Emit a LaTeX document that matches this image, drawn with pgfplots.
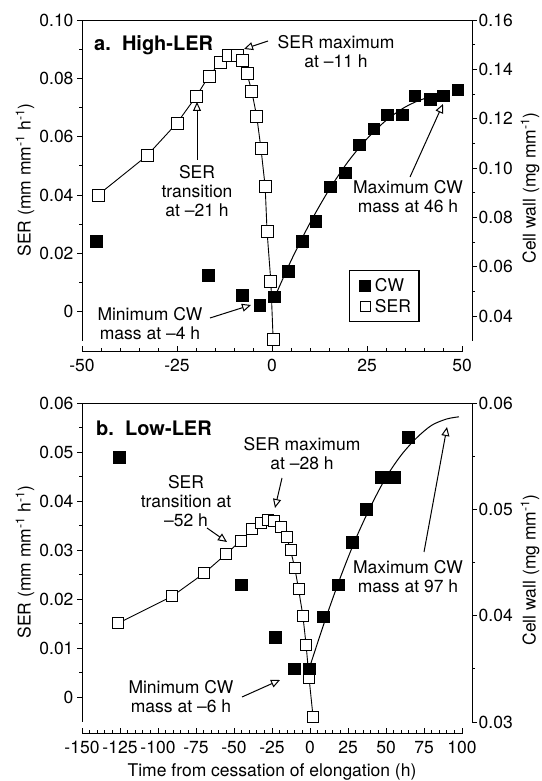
\documentclass[border=0pt]{standalone}
\usepackage{fontspec}
\setmainfont{TeX Gyre Heros}
\usepackage{pgfplots}
\pgfplotsset{compat=1.18}
\usetikzlibrary{arrows.meta}

\newcommand{\fs}{\fontsize{17.5}{19}\selectfont}

\pgfplotsset{
  base/.style={
    scale only axis, clip=false, scaled ticks=false,
    tick label style={font=\fs},
    axis line style={line width=1pt,-},
    every tick/.style={black,line width=0.9pt},
    major tick length=5pt, minor tick length=3pt,
  },
  yleft/.style={base, width=390pt, axis y line*=left, axis x line=none, tick align=outside},
  yright/.style={base, width=390pt, axis y line*=right, axis x line=none, tick align=outside,
    yticklabel style={inner sep=1.5pt}},
  xonly/.style={base, width=380pt, height=10pt, ymin=0, ymax=1, axis y line=none,
    axis x line*=bottom, tick align=inside, major tick length=6pt, minor tick length=3.5pt,
    xticklabel style={yshift=-4pt}},
  ser/.style={black, line width=0.9pt, mark=square*, mark size=#1,
    mark options={fill=white, line width=0.8pt, solid}},
  cw/.style={black, only marks, mark=square*, mark size=5.8pt},
  fit/.style={black, line width=1pt, smooth, no marks, forget plot},
}
\tikzset{ann/.style={-{Triangle[open,length=9pt,width=8pt]}, line width=1pt},
  txt/.style={font=\fs, align=center, inner sep=0pt}}

\begin{document}
\begin{tikzpicture}
\path[use as bounding box] (0,0) rectangle (541pt,781pt);

% ---------- panel a ----------
\begin{axis}[yleft, name=La, at={(82pt,440pt)}, anchor=south west, height=321pt,
  xmin=-50, xmax=52.63, ymin=-0.01, ymax=0.10,
  ytick={0,0.02,0.04,0.06,0.08,0.10},
  yticklabels={0,0.02,0.04,0.06,0.08,0.10},
  minor ytick={0.01,0.03,0.05,0.07,0.09}]
  \addplot[ser=6pt] coordinates {
    (-45.8,0.040) (-32.9,0.0535) (-25,0.0647) (-20,0.0737) (-16.6,0.0808)
    (-13.7,0.0853) (-11.6,0.0877) (-9.2,0.088) (-7.9,0.086) (-6.6,0.0818)
    (-5.3,0.0754) (-4,0.0668) (-2.9,0.0559) (-1.8,0.0429) (-1.3,0.0275)
    (-0.3,0.0103) (0.3,-0.0096)
  };
  \draw[line width=0.8pt] (rel axis cs:0,1) -- (rel axis cs:1,1);
\end{axis}
\begin{axis}[yright, at={(La.south west)}, anchor=south west, height=321pt,
  xmin=-50, xmax=52.63, ymin=0.03, ymax=0.16,
  ytick={0.04,0.06,0.08,0.10,0.12,0.14,0.16},
  yticklabels={0.04,0.06,0.08,0.10,0.12,0.14,0.16},
  minor ytick={0.05,0.07,0.09,0.11,0.13,0.15},
  legend style={at={(0.685,0.221)}, anchor=north west, draw=black, line width=1.2pt,
    font=\fs, inner xsep=6pt, inner ysep=6pt, row sep=2pt},
  legend cell align=left,
  legend image code/.code={\path (0pt,0pt) (16pt,0pt);
    \draw[#1, mark size=5.3pt] plot coordinates {(9pt,0pt)};}]
  \addplot[fit] coordinates {
    (0.5,0.047) (5,0.0625) (10,0.0778) (15,0.0912) (20,0.1026) (25,0.1119)
    (30,0.1193) (35,0.1247) (40,0.1281) (46,0.1295)
  };
  \addplot[cw] coordinates {
    (-46.3,0.0703) (-16.8,0.0566) (-7.9,0.0485) (-3.2,0.0444) (0.5,0.048)
    (4.3,0.0582) (8.0,0.0703) (11.5,0.0784) (15.3,0.0925) (19.2,0.0982)
    (22.9,0.1095) (26.8,0.116) (30.3,0.1216) (34.2,0.1216) (37.6,0.1293)
    (41.6,0.128) (45,0.1293) (48.9,0.1317)
  };
  \addlegendentry{CW}
  \addlegendimage{only marks, mark=square*, mark options={fill=white, line width=0.8pt}}
  \addlegendentry{SER}
\end{axis}
\begin{axis}[xonly, at={(La.south west)}, anchor=south west, yshift=-11pt,
  xmin=-50, xmax=50, xtick={-50,-25,0,25,50},
  xticklabels={-50,-25,0,25,50},
  minor xtick={-45,-40,...,45}]
\end{axis}

\node[font=\fs\bfseries, anchor=west, inner sep=0pt] at (94pt,736pt) {\fontsize{20}{22}\selectfont a.\ \ High-LER};
\node[txt] at (336pt,729pt) {SER maximum\\at –11 h};
\draw[ann] (268pt,740pt) -- (244pt,732pt);
\node[txt] at (197pt,590pt) {SER\\transition\\at –21 h};
\draw[ann] (197pt,621pt) -- (197pt,679pt);
\node[txt] at (150pt,457pt) {Minimum CW\\mass at –4 h};
\draw[ann] (210pt,463pt) -- (251pt,476pt);
\node[txt] at (408pt,584pt) {Maximum CW\\mass at 46 h};
\draw[ann] (410pt,604pt) -- (443pt,677pt);
\node[font=\fs, rotate=90] at (25pt,601pt) {SER (mm mm\textsuperscript{-1} h\textsuperscript{-1})};
\node[font=\fs, rotate=90] at (530pt,593pt) {Cell wall (mg mm\textsuperscript{-1})};

% ---------- panel b ----------
\begin{axis}[yleft, name=Lb, at={(82pt,59pt)}, anchor=south west, height=319pt,
  xmin=-150, xmax=106.58, ymin=-0.005, ymax=0.06,
  ytick={0,0.01,0.02,0.03,0.04,0.05,0.06},
  yticklabels={0,0.01,0.02,0.03,0.04,0.05,0.06},
  minor ytick={0.005,0.015,0.025,0.035,0.045,0.055}]
  \addplot[ser=5.5pt] coordinates {
    (-126.3,0.0151) (-90.8,0.0206) (-69.7,0.0253) (-55.3,0.0292) (-45.4,0.032)
    (-38,0.0343) (-32.4,0.0355) (-27.6,0.0361) (-23.5,0.0360) (-18.9,0.0347)
    (-15.3,0.0327) (-12.8,0.030) (-10,0.0264) (-7.6,0.0222) (-4.7,0.0167)
    (-2.6,0.0108) (-0.6,0.0039) (2,-0.0039)
  };
  \draw[line width=0.8pt] (rel axis cs:0,1) -- (rel axis cs:1,1);
\end{axis}
\begin{axis}[yright, at={(Lb.south west)}, anchor=south west, height=319pt,
  xmin=-150, xmax=106.58, ymin=0.03, ymax=0.06,
  ytick={0.03,0.04,0.05,0.06},
  yticklabels={0.03,0.04,0.05,0.06},
  minor ytick={0.035,0.045,0.055}]
  \addplot[fit] coordinates {
    (-0.6,0.035) (10,0.0396) (20,0.0436) (30,0.0472) (40,0.0503) (50,0.0530)
    (60,0.0551) (70,0.0567) (80,0.0579) (90,0.0585) (98,0.0587)
  };
  \addplot[cw] coordinates {
    (-125.7,0.0549) (-45.4,0.0429) (-23,0.038) (-10.5,0.035) (-0.6,0.035)
    (8.6,0.0399) (18.4,0.0429) (27.6,0.0469) (36.8,0.050) (46.7,0.053)
    (55.3,0.053) (64.5,0.0568)
  };
\end{axis}
\begin{axis}[xonly, at={(Lb.south west)}, anchor=south west, yshift=-12pt,
  xmin=-150, xmax=100, xtick={-150,-125,...,100},
  xticklabels={-150,-125,-100,-75,-50,-25,0,25,50,75,100},
  minor xtick={-145,-140,...,95}]
\end{axis}

\node[font=\fs\bfseries, anchor=west, inner sep=0pt] at (96pt,353pt) {\fontsize{20}{22}\selectfont b.\ \ Low-LER};
\node[txt] at (186pt,280pt) {SER\\transition at\\–52 h};
\draw[ann] (207pt,253pt) -- (227pt,239pt);
\node[txt] at (302pt,327pt) {SER maximum\\at –28 h};
\draw[ann] (282pt,303pt) -- (275pt,273pt);
\node[txt] at (408pt,204pt) {Maximum CW\\mass at 97 h};
\draw[ann] (424pt,229pt) -- (447pt,354pt);
\node[txt] at (181pt,84pt) {Minimum CW\\mass at –6 h};
\draw[ann] (242pt,84pt) -- (280pt,101pt);
\node[font=\fs, rotate=90] at (25pt,219pt) {SER (mm mm\textsuperscript{-1} h\textsuperscript{-1})};
\node[font=\fs, rotate=90] at (530pt,211pt) {Cell wall (mg mm\textsuperscript{-1})};
\node[font=\fs] at (272pt,9pt) {Time from cessation of elongation (h)};
\end{tikzpicture}
\end{document}
